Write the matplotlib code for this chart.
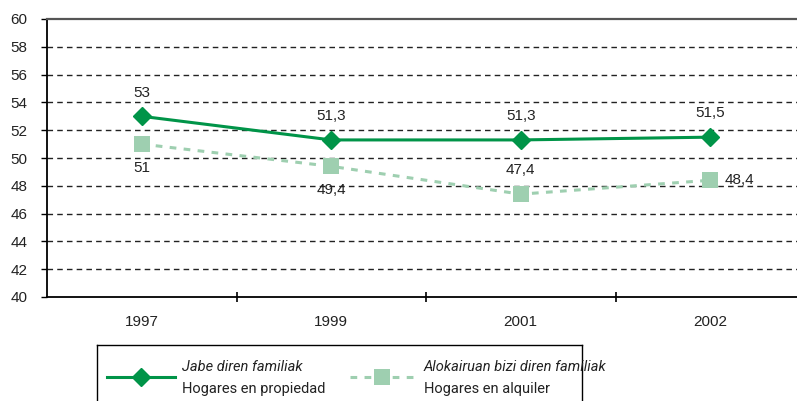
import matplotlib.pyplot as plt
from matplotlib.lines import Line2D

years = ['1997', '1999', '2001', '2002']
propiedad = [53.0, 51.3, 51.3, 51.5]
alquiler = [51.0, 49.4, 47.4, 48.4]
serie_names = [('Jabe diren familiak', 'Hogares en propiedad'),
               ('Alokairuan bizi diren familiak', 'Hogares en alquiler')]

dark_green = '#009448'
light_green = '#9ecfb0'
plt.rcParams['font.family'] = ['Liberation Sans', 'DejaVu Sans']
fs = 11
legend_font = ['Roboto', 'DejaVu Sans']

W, H = 797, 401
fig = plt.figure(figsize=(W / 100, H / 100), dpi=100)
# main axes: left 47px, top 19px, bottom 297px, band width ~189.5px (runs past right edge)
ax = fig.add_axes([47 / W, 1 - 297 / H, 758 / W, 278 / H])

x = range(len(years))
ax.plot(x, propiedad, color=dark_green, lw=2.2, marker='D', ms=9, zorder=3)
ax.plot(x, alquiler, color=light_green, lw=2.2, ls=(0, (2.2, 2.4)), marker='s', ms=11,
        markeredgewidth=0, zorder=3)

ax.set_xlim(-0.5, 3.5)
ax.set_ylim(40, 60)
ax.set_yticks(range(40, 61, 2))
ax.set_xticks([0, 1, 2, 3])
ax.set_xticklabels(years)
ax.set_xticks([0.5, 1.5, 2.5], minor=True)
ax.tick_params(axis='x', which='major', length=0, pad=13, labelsize=fs, colors='#222222')
ax.tick_params(axis='x', which='minor', length=7, width=1.2, direction='inout')
ax.tick_params(axis='y', length=4, width=1, labelsize=fs, colors='#222222', pad=10)
ax.tick_params(axis='both', color='black')

for v in range(42, 60, 2):
    ax.axhline(v, color='#222222', lw=1, ls=(0, (4, 3)), zorder=1)

for s in ['left', 'bottom']:
    ax.spines[s].set_color('black')
    ax.spines[s].set_linewidth(1.3)
ax.spines['top'].set_color('#555555')
ax.spines['top'].set_linewidth(1.6)
ax.spines['right'].set_visible(False)

def fmt(v):
    return ('%g' % v).replace('.', ',')

for i, v in enumerate(propiedad):
    ax.annotate(fmt(v), (i, v), xytext=(0, 12), textcoords='offset points',
                ha='center', va='bottom', fontsize=fs, color='#222222')

alq_offsets = [(0, -12, 'center', 'top'), (0, -12, 'center', 'top'),
               (0, 12, 'center', 'bottom'), (10, 0, 'left', 'center')]
for i, v in enumerate(alquiler):
    dx, dy, ha, va = alq_offsets[i]
    ax.annotate(fmt(v), (i, v), xytext=(dx, dy), textcoords='offset points',
                ha=ha, va=va, fontsize=fs, color='#222222')

# legend box
lax = fig.add_axes([97 / W, 0, (582 - 97) / W, (H - 345) / H])
lax.set_xlim(97, 582)
lax.set_ylim(H, 345)
lax.set_xticks([])
lax.set_yticks([])
for s in ['left', 'right', 'top']:
    lax.spines[s].set_color('black')
    lax.spines[s].set_linewidth(1)
lax.spines['bottom'].set_visible(False)

lax.add_line(Line2D([107, 175], [377, 377], color=dark_green, lw=2.2))
lax.add_line(Line2D([141], [377], color=dark_green, marker='D', ms=9))
lax.add_line(Line2D([350, 414], [377, 377], color=light_green, lw=2.2, ls=(0, (2.2, 2.4))))
lax.add_line(Line2D([382], [377], color=light_green, marker='s', ms=11, markeredgewidth=0))

for xt, (eu, es) in zip([182, 424], serie_names):
    lax.text(xt, 367, eu, style='italic', fontsize=10.5, va='center', ha='left',
             color='#222222', family=legend_font)
    lax.text(xt, 389, es, fontsize=10.5, va='center', ha='left', color='#222222',
             family=legend_font)

fig.savefig('out.png', dpi=100)
